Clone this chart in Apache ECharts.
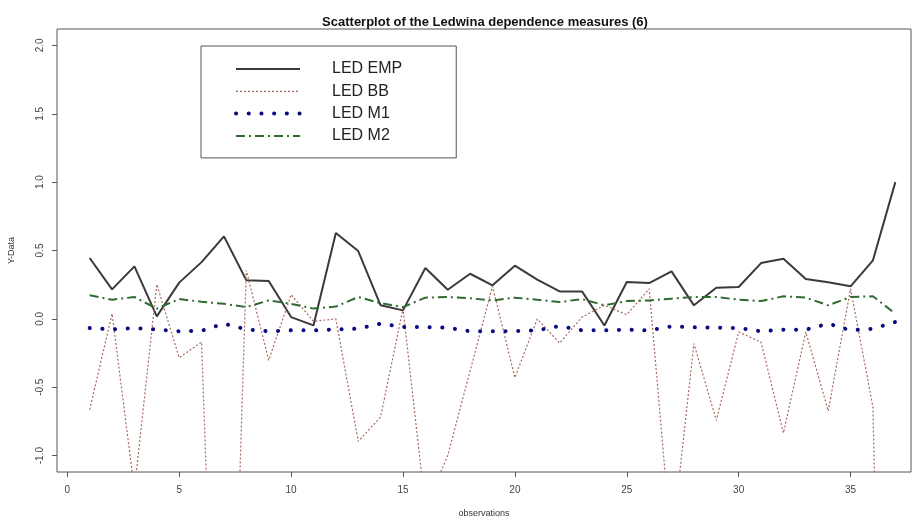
<!DOCTYPE html>
<html>
<head>
<meta charset="utf-8">
<script src="https://cdn.jsdelivr.net/npm/echarts@6/dist/echarts.min.js"></script>
<style>
html,body{margin:0;padding:0;background:#fff}
#chart{width:918px;height:518px}
</style>
</head>
<body>
<div id="chart"></div>
<script>
var obs = [1,2,3,4,5,6,7,8,9,10,11,12,13,14,15,16,17,18,19,20,21,22,23,24,25,26,27,28,29,30,31,32,33,34,35,36,37];
var ledEmp = [0.445,0.216,0.384,0.018,0.265,0.415,0.603,0.282,0.277,0.013,-0.048,0.628,0.496,0.099,0.062,0.372,0.213,0.33,0.245,0.389,0.287,0.201,0.201,-0.048,0.27,0.262,0.347,0.099,0.228,0.233,0.408,0.44,0.291,0.267,0.238,0.428,1.0];
var ledBB = [-0.664,0.038,-1.25,0.252,-0.284,-0.17,-4.8,0.355,-0.303,0.177,-0.018,0.0,-0.896,-0.718,0.075,-1.38,-1.0,-0.38,0.238,-0.43,0.0,-0.177,0.013,0.099,0.031,0.22,-1.67,-0.181,-0.743,-0.096,-0.17,-0.835,-0.096,-0.674,0.22,-0.645,-8];
var ledM1 = [-0.067,-0.077,-0.067,-0.077,-0.091,-0.087,-0.035,-0.077,-0.091,-0.084,-0.084,-0.077,-0.072,-0.035,-0.06,-0.06,-0.065,-0.091,-0.091,-0.089,-0.084,-0.052,-0.084,-0.084,-0.079,-0.084,-0.055,-0.062,-0.065,-0.067,-0.091,-0.079,-0.079,-0.035,-0.084,-0.072,-0.023];
var ledM2 = [0.172,0.14,0.16,0.075,0.145,0.125,0.11,0.086,0.135,0.11,0.075,0.09,0.16,0.115,0.086,0.155,0.16,0.15,0.135,0.155,0.14,0.123,0.145,0.099,0.13,0.135,0.148,0.16,0.16,0.14,0.13,0.165,0.155,0.099,0.16,0.165,0.038];
var xTicks = [0,5,10,15,20,25,30,35];
var yTicks = [-1,-0.5,0,0.5,1,1.5,2];

function pairs(v) {
    return obs.map(function(x, i){ return [x, v[i]]; });
}

var font = "'Liberation Sans', Arial, Helvetica, sans-serif";
var chart = echarts.init(document.getElementById("chart"));

var option = {
    animation: false,
    backgroundColor: "#fff",
    textStyle: { fontFamily: font },
    title: {
        text: "Scatterplot of the Ledwina dependence measures (6)",
        left: 480,
        textAlign: "center",
        top: 11,
        textStyle: { fontSize: 13, fontWeight: "bold", color: "#111", fontFamily: font }
    },
    legend: {
        data: ["LED EMP", "LED BB", "LED M1", "LED M2"],
        orient: "vertical",
        left: 201,
        top: 46,
        itemWidth: 64,
        itemHeight: 16,
        itemGap: 6.3,
        padding: [15, 54, 14, 33],
        borderColor: "#555",
        borderWidth: 1,
        selectedMode: false,
        itemStyle: { color: "rgba(0,0,0,0)", borderWidth: 0, opacity: 0 },
        lineStyle: { width: "inherit" },
        textStyle: { fontSize: 16, color: "#222", padding: [0, 0, 0, 27], fontFamily: font }
    },
    grid: {
        show: true,
        left: 57,
        right: 7,
        top: 29,
        bottom: 46,
        outerBoundsMode: "none",
        containLabel: false,
        borderColor: "#555",
        borderWidth: 1
    },
    xAxis: {
        type: "value",
        min: -0.46,
        max: 37.7,
        name: "observations",
        nameLocation: "middle",
        nameGap: 37,
        nameTextStyle: { fontSize: 9, color: "#333" },
        axisLine: { show: false, onZero: false },
        splitLine: { show: false },
        axisTick: { show: true, length: 5, customValues: xTicks, lineStyle: { color: "#555" } },
        axisLabel: { customValues: xTicks, margin: 13, fontSize: 10, color: "#444" }
    },
    yAxis: {
        type: "value",
        min: -1.12,
        max: 2.12,
        name: "Y-Data",
        nameLocation: "middle",
        nameGap: 41,
        nameRotate: 90,
        nameTextStyle: { fontSize: 9, color: "#333" },
        axisLine: { show: false, onZero: false },
        splitLine: { show: false },
        axisTick: { show: true, length: 5, customValues: yTicks, lineStyle: { color: "#555" } },
        axisLabel: {
            customValues: yTicks,
            rotate: 90,
            margin: 12,
            fontSize: 10,
            color: "#444",
            formatter: function(v){ return v.toFixed(1); }
        }
    },
    series: [{
        name: "LED EMP",
        type: "line",
        symbol: "none",
        data: pairs(ledEmp),
        lineStyle: { color: "#3a3a3a", width: 2 },
        itemStyle: { color: "#3a3a3a" }
    }, {
        name: "LED BB",
        type: "line",
        symbol: "none",
        data: pairs(ledBB),
        lineStyle: { color: "#a86a5e", width: 1.2, type: [2, 2] },
        itemStyle: { color: "#a86a5e" }
    }, {
        name: "LED M1",
        type: "line",
        symbol: "none",
        data: pairs(ledM1),
        lineStyle: { color: "#0a0a80", width: 4, type: [0.1, 12.6], cap: "round" },
        itemStyle: { color: "#0a0a80" }
    }, {
        name: "LED M2",
        type: "line",
        symbol: "none",
        data: pairs(ledM2),
        lineStyle: { color: "#2f6a2f", width: 2, type: [9, 4, 2, 4] },
        itemStyle: { color: "#2f6a2f" }
    }]
};
chart.setOption(option);
</script>
</body>
</html>
